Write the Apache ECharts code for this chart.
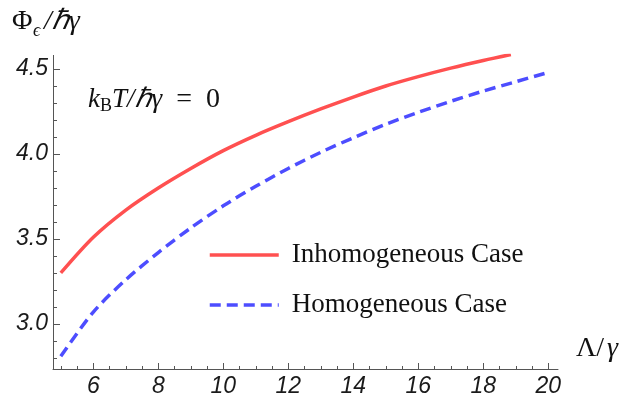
<!DOCTYPE html>
<html><head><meta charset="utf-8">
<script src="https://cdn.jsdelivr.net/npm/echarts@6/dist/echarts.min.js"></script>
<style>html,body{margin:0;padding:0;background:#fff}#c{width:644px;height:403px}</style>
</head><body><div id="c"></div>
<script>
// ---- data ----
const inhomX = [5, 6, 7, 8, 9, 10, 11, 12, 13, 14, 15, 16, 17, 18, 18.85];
const inhomY = [3.30, 3.51, 3.67, 3.80, 3.915, 4.02, 4.11, 4.19, 4.265, 4.335, 4.40, 4.455, 4.505, 4.55, 4.585];
const homX = [5, 6, 7, 8, 9, 10, 11, 12, 13, 14, 15, 16, 17, 18, 19, 20];
const homY = [2.81, 3.07, 3.26, 3.42, 3.565, 3.695, 3.81, 3.915, 4.01, 4.095, 4.175, 4.245, 4.31, 4.37, 4.425, 4.48];
const seriesNames = ['Inhomogeneous Case', 'Homogeneous Case'];
const xMajorTicks = [6, 8, 10, 12, 14, 16, 18, 20];
const xMinorTicks = [5, 5.5, 6.5, 7, 7.5, 8.5, 9, 9.5, 10.5, 11, 11.5, 12.5, 13, 13.5, 14.5, 15, 15.5, 16.5, 17, 17.5, 18.5, 19, 19.5];
const yMajorTicks = [3.0, 3.5, 4.0, 4.5];
const yMinorTicks = [2.8, 2.9, 3.1, 3.2, 3.3, 3.4, 3.6, 3.7, 3.8, 3.9, 4.1, 4.2, 4.3, 4.4];
const xRange = [4.76, 20.3];
const yRange = [2.735, 4.58];

const axisColor = '#555';
const labelFont = { fontFamily: 'Liberation Sans', fontStyle: 'italic', fontSize: 23, color: '#1a1a1a' };
const serif = 'Liberation Serif';

const chart = echarts.init(document.getElementById('c'), null, { renderer: 'canvas' });
const zip = (xs, ys) => xs.map((x, i) => [x, ys[i]]);

const option = {
  animation: false,
  backgroundColor: '#fff',
  grid: { left: 53, right: 86, top: 55.4, bottom: 34, containLabel: false, outerBoundsMode: 'none' },
  xAxis: [
    {
      type: 'value', min: xRange[0], max: xRange[1], position: 'bottom',
      axisLine: { show: true, onZero: false, lineStyle: { color: axisColor, width: 1 } },
      axisTick: { show: true, inside: true, length: 6, customValues: xMajorTicks, lineStyle: { color: axisColor } },
      axisLabel: { show: true, customValues: xMajorTicks, margin: 6, formatter: v => String(v), ...labelFont },
      splitLine: { show: false }
    },
    {
      type: 'value', min: xRange[0], max: xRange[1], position: 'bottom', offset: 0,
      axisLine: { show: false, onZero: false },
      axisTick: { show: true, inside: true, length: 3, customValues: xMinorTicks, lineStyle: { color: axisColor } },
      axisLabel: { show: false },
      splitLine: { show: false }
    }
  ],
  yAxis: [
    {
      type: 'value', min: yRange[0], max: yRange[1], position: 'left',
      axisLine: { show: true, onZero: false, lineStyle: { color: axisColor, width: 1 } },
      axisTick: { show: true, inside: true, length: 7, customValues: yMajorTicks, lineStyle: { color: axisColor } },
      axisLabel: { show: true, customValues: yMajorTicks, margin: 5, formatter: v => v.toFixed(1), ...labelFont },
      splitLine: { show: false }
    },
    {
      type: 'value', min: yRange[0], max: yRange[1], position: 'left', offset: 0,
      axisLine: { show: false, onZero: false },
      axisTick: { show: true, inside: true, length: 4, customValues: yMinorTicks, lineStyle: { color: axisColor } },
      axisLabel: { show: false },
      splitLine: { show: false }
    }
  ],
  legend: {
    orient: 'vertical', left: 208, top: 240, padding: 0,
    itemWidth: 69, itemHeight: 14, itemGap: 20,
    data: seriesNames,
    itemStyle: { opacity: 0, borderWidth: 0 },
    lineStyle: { width: 3.5 },
    textStyle: { fontFamily: serif, fontSize: 27, color: '#111', lineHeight: 30, padding: [0, 0, 0, 8] }
  },
  series: [
    {
      name: seriesNames[0], type: 'line', xAxisIndex: 0, yAxisIndex: 0,
      data: zip(inhomX, inhomY), symbol: 'none', showSymbol: false,
      smooth: 0.3, clip: true,
      lineStyle: { color: '#ff5050', width: 3.5, type: 'solid' },
      itemStyle: { color: '#ff5050' }
    },
    {
      name: seriesNames[1], type: 'line', xAxisIndex: 0, yAxisIndex: 0,
      data: zip(homX, homY), symbol: 'none', showSymbol: false,
      smooth: 0.3, clip: true,
      lineStyle: { color: '#4d4dff', width: 3.5, type: [11, 6] },
      itemStyle: { color: '#4d4dff' }
    }
  ],
  graphic: [
    { type: 'text', x: 12, y: 22, style: { text: 'Φ', fontFamily: serif, fontSize: 28, fill: '#111', verticalAlign: 'middle' } },
    { type: 'text', x: 33, y: 31, style: { text: 'ϵ', fontFamily: serif, fontStyle: 'italic', fontSize: 18, fill: '#111', verticalAlign: 'middle' } },
    { type: 'text', x: 44, y: 22, style: { text: '/ℏγ', fontFamily: serif, fontStyle: 'italic', fontSize: 28, fill: '#111', verticalAlign: 'middle' } },
    { type: 'text', x: 576, y: 349, style: { text: 'Λ/', fontFamily: serif, fontSize: 28, fill: '#111', verticalAlign: 'middle' } },
    { type: 'text', x: 607, y: 349, style: { text: 'γ', fontFamily: serif, fontStyle: 'italic', fontSize: 28, fill: '#111', verticalAlign: 'middle' } },
    { type: 'text', x: 88, y: 100, style: {
        text: '{it|k}{sub|B}{it|T/ℏγ}{up|  =  0}', verticalAlign: 'middle',
        rich: {
          it: { fontFamily: serif, fontStyle: 'italic', fontSize: 27, lineHeight: 30, fill: '#111' },
          up: { fontFamily: serif, fontSize: 28, lineHeight: 30, fill: '#111' },
          sub: { fontFamily: serif, fontSize: 18, lineHeight: 18, verticalAlign: 'bottom', fill: '#111' }
        } } }
  ]
};
chart.setOption(option);
</script>
</body></html>
